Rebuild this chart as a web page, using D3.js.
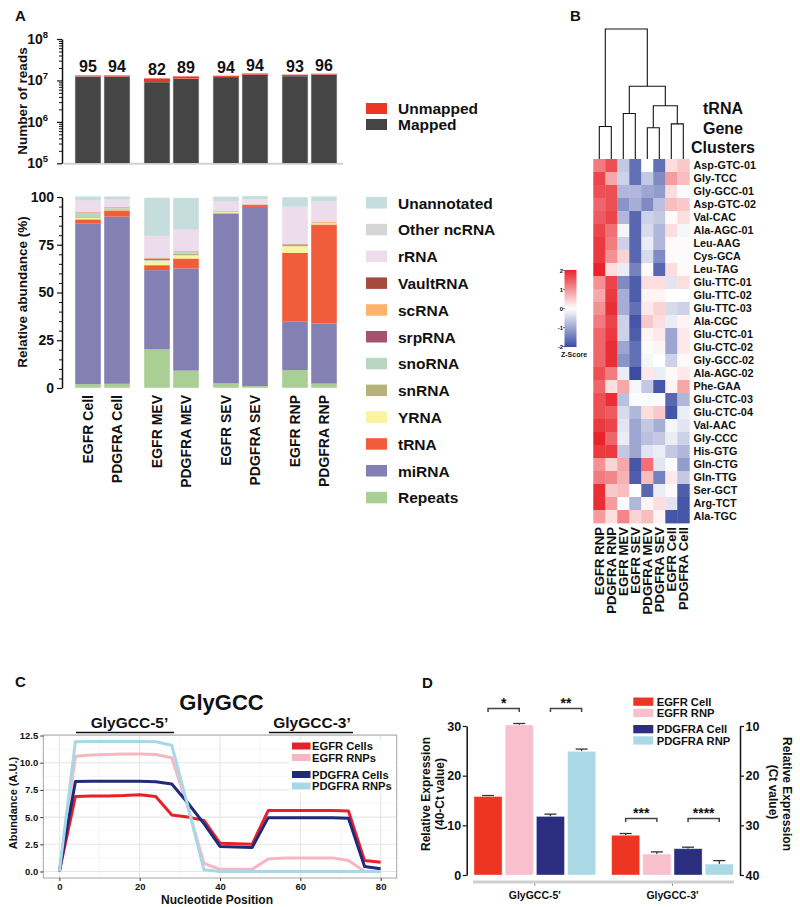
<!DOCTYPE html>
<html><head><meta charset="utf-8">
<script src="https://cdn.jsdelivr.net/npm/d3@7"></script>
<style>
body{margin:0;background:#fff}
svg{display:block}
text{font-family:"Liberation Sans",Arial,Helvetica,sans-serif;font-weight:bold;fill:#111}
</style>
</head><body>
<svg id="c" width="800" height="907"></svg>
<script>
// ---------------- DATA ----------------
// Panel A
const samples = ["EGFR Cell","PDGFRA Cell","EGFR MEV","PDGFRA MEV","EGFR SEV","PDGFRA SEV","EGFR RNP","PDGFRA RNP"];
const totalReads = [1.32e7, 1.32e7, 1.12e7, 1.25e7, 1.30e7, 1.47e7, 1.38e7, 1.45e7];
const mappedPct = [95, 94, 82, 89, 94, 94, 93, 96];
const readLegend = ["Unmapped", "Mapped"];
const readTicks = [1e5, 1e6, 1e7, 1e8];
const readTickExp = ["5", "6", "7", "8"];

const rnaTypes = ["Repeats","miRNA","tRNA","YRNA","snRNA","snoRNA","srpRNA","scRNA","VaultRNA","rRNA","Other ncRNA","Unannotated"];
const repeats     = [2.0, 2.2, 20.2, 9.1, 2.4, 1.0, 9.4, 2.3];
const miRNA       = [84.0, 87.5, 41.5, 53.5, 88.9, 93.8, 25.3, 31.5];
const tRNA        = [2.3, 3.3, 2.6, 5.2, 0.2, 1.0, 36.0, 51.8];
const yRNA        = [0.8, 0.4, 2.2, 1.7, 0.6, 0.2, 3.5, 0.6];
const snRNA       = [0.4, 0.4, 0.3, 0.8, 0.1, 0.1, 0.2, 0.1];
const snoRNA      = [2.2, 0.5, 0.3, 1.0, 0.1, 0.1, 0.2, 0.1];
const srpRNA      = [0.1, 0.1, 0.6, 0.1, 0.05, 0.05, 0.5, 0.1];
const scRNA       = [0.2, 0.2, 0.3, 0.3, 0.3, 0.1, 0.1, 0.4];
const vaultRNA    = [0.1, 0.1, 0.2, 0.1, 0.05, 0.05, 0.1, 0.1];
const rRNA        = [6.0, 3.8, 11.3, 10.9, 5.0, 2.2, 19.5, 10.4];
const otherNcRNA  = [0.3, 0.2, 0.5, 0.4, 0.2, 0.2, 0.2, 0.2];
const unannotated = [2.0, 1.7, 19.7, 16.5, 2.4, 1.8, 5.0, 2.8];
const abundanceTicks = [0, 25, 50, 75, 100];

// Panel B
const heatCols = ["EGFR RNP","PDGFRA RNP","EGFR MEV","EGFR SEV","PDGFRA MEV","PDGFRA SEV","EGFR Cell","PDGFRA Cell"];
const trnaGenes = ["Asp-GTC-01","Gly-TCC","Gly-GCC-01","Asp-GTC-02","Val-CAC","Ala-AGC-01","Leu-AAG","Cys-GCA","Leu-TAG",
  "Glu-TTC-01","Glu-TTC-02","Glu-TTC-03","Ala-CGC","Glu-CTC-01","Glu-CTC-02","Gly-GCC-02","Ala-AGC-02","Phe-GAA",
  "Glu-CTC-03","Glu-CTC-04","Val-AAC","Gly-CCC","His-GTG","Gln-CTG","Gln-TTG","Ser-GCT","Arg-TCT","Ala-TGC"];
const zScores = [
  [1.2, 1.6, -0.6, -1.6, 0.0, -1.6, 0.3, 0.5],
  [1.7, 0.8, -0.5, -1.6, -0.6, -1.3, 0.9, 0.6],
  [1.6, 1.6, -0.8, -0.8, -1.0, -1.1, 0.3, -0.05],
  [1.4, 1.6, -1.2, -0.9, -1.3, -0.7, 0.6, 0.5],
  [1.5, 1.7, -0.8, -1.7, -0.5, -0.6, 0.05, 0.3],
  [1.7, 1.3, -0.1, -1.7, -0.4, -0.8, 0.3, -0.1],
  [1.8, 1.2, -0.5, -1.7, -0.2, -0.8, 0.05, 0.05],
  [1.8, 1.0, 0.4, -1.7, -0.4, -1.3, 0.05, -0.05],
  [2.0, 0.3, -0.2, -1.4, 0.05, -1.7, 0.3, 0.05],
  [1.0, 1.7, -1.3, -1.8, 0.3, 0.3, -0.3, 0.3],
  [0.8, 1.8, -0.9, -1.8, 0.1, 0.1, 0.0, 0.0],
  [1.0, 1.9, -0.9, -1.6, 0.2, 0.4, -0.4, -0.5],
  [1.2, 1.7, -0.5, -1.9, 0.5, 0.3, -0.2, 0.1],
  [1.4, 1.8, -0.5, -1.8, 0.1, 0.2, -1.0, 0.2],
  [1.4, 1.9, -1.0, -1.6, -0.05, 0.1, -1.0, 0.2],
  [1.4, 1.9, -1.2, -1.6, -0.1, 0.0, -0.5, 0.05],
  [1.6, 1.2, -0.2, -2.0, 0.2, -0.2, 0.05, 0.2],
  [1.4, 0.3, 0.8, -0.1, -0.6, -1.9, 0.1, 0.8],
  [1.6, 1.9, -0.7, -0.05, -0.05, -0.05, -1.7, -0.8],
  [1.6, 1.5, -0.4, -0.8, 0.3, 0.5, -1.9, -0.2],
  [1.8, 1.7, -0.3, -1.0, -0.6, -0.9, -0.1, -0.3],
  [2.0, 1.4, -0.2, -1.0, -0.7, -0.6, -0.2, -0.5],
  [1.8, 1.8, -0.6, -1.0, -0.3, -0.2, -0.6, -0.8],
  [1.0, 0.4, 0.8, -1.9, 1.3, -0.3, -0.05, -1.1],
  [1.2, 1.1, 0.7, -1.8, 0.6, -1.4, 0.2, -0.6],
  [1.9, 0.5, 0.6, 0.0, -1.7, -0.2, 0.05, -1.8],
  [1.9, 0.9, -0.05, -0.8, 0.1, 0.3, -0.3, -1.9],
  [0.9, 0.3, 1.1, 0.4, 0.6, 0.1, -1.9, -1.9]
];
const zLegendTicks = [2, 1, 0, -1, -2];
// dendrogram: merge heights (relative distance)
const dendro = {h:1.0, children:[
  {h:0.25, children:[{leaf:0},{leaf:1}]},
  {h:0.56, children:[
    {h:0.35, children:[{leaf:2},{leaf:3}]},
    {h:0.41, children:[
      {h:0.24, children:[{leaf:4},{leaf:5}]},
      {h:0.27, children:[{leaf:6},{leaf:7}]}]}]}]};

// Panel C
const ntPos = [0,4,8,12,16,20,24,28,32,36,40,44,48,52,56,60,64,68,72,76,80];
const egfrCells   = [0,6.9,6.95,6.95,6.98,7.05,6.9,5.2,5.0,4.7,2.6,2.55,2.5,5.6,5.6,5.6,5.6,5.6,5.55,1.0,0.85];
const egfrRNPs    = [0,10.6,10.7,10.75,10.8,10.8,10.75,10.45,5.9,0.75,0.2,0.2,0.2,1.15,1.25,1.25,1.25,1.25,1.0,0.0,0.0];
const pdgfraCells = [0,8.28,8.3,8.3,8.3,8.3,8.25,8.05,6.3,4.4,2.3,2.25,2.2,4.95,4.95,4.95,4.95,4.95,4.9,0.45,0.25];
const pdgfraRNPs  = [0,11.93,11.95,11.95,11.95,11.95,11.93,11.6,6.0,0.15,0,0,0,0,0,0,0,0,0,0,0];
const lineNames = ["EGFR Cells","EGFR RNPs","PDGFRA Cells","PDGFRA RNPs"];
const cXTicks = [0,20,40,60,80];
const cYTicks = [0,2.5,5,7.5,10,12.5];

// Panel D
const dGroups = ["GlyGCC-5'","GlyGCC-3'"];
const dSeries = ["EGFR Cell","EGFR RNP","PDGFRA Cell","PDGFRA RNP"];
const dMean5 = [15.8, 30.2, 11.8, 24.9];
const dErr5  = [0.2, 0.3, 0.45, 0.45];
const dMean3 = [8.0, 4.2, 5.3, 2.2];
const dErr3  = [0.35, 0.45, 0.3, 0.7];
const dSig = [["*",0,0,1],["**",0,2,3],["***",1,0,1],["****",1,2,3]];
const dLeftTicks = [0,10,20,30];
const dRightTicks = [10,20,30,40];

// ---------------- STYLES ----------------
const readColors = ["#ee3524", "#454545"];
const rnaColors = ["#a9cf95","#8480b3","#f15d3b","#faf3a0","#b5b27b","#b9d7c0","#a6536f","#fdb36b","#a54b3d","#eddcec","#d5d5d5","#c6dddd"];
const lineColors = ["#e8202a","#f7b6c4","#1f2a7a","#a8d8e8"];
const dColors = ["#ee3524","#f8bfcc","#2b2e7e","#abd9e6"];

const svg = d3.select("#c");
svg.append("rect").attr("width",800).attr("height",907).attr("fill","#fff");

function T(x, y, s, size, anchor, g) {
  return (g || svg).append("text").attr("x", x).attr("y", y).attr("font-size", size)
    .attr("text-anchor", anchor || "start").text(s);
}
function styleAxis(g, size, col) {
  g.selectAll("text").attr("font-size", size).attr("fill", col || "#111")
    .attr("font-family", '"Liberation Sans",Arial,sans-serif').attr("font-weight","bold");
  g.selectAll("line").attr("stroke", "#111").attr("stroke-width", 1.2);
  g.selectAll("path").attr("stroke", "#111").attr("stroke-width", 1.5);
}

// ---------------- PANEL A ----------------
T(15, 21, "A", 15);
const gx = d3.scaleBand().domain(d3.range(4)).range([75, 337]).paddingInner(0.203);
const ix = d3.scaleBand().domain([0, 1]).range([0, gx.bandwidth()]).paddingInner(0.1034);
const barX = i => gx(Math.floor(i / 2)) + ix(i % 2);
const bw = ix.bandwidth();

// top: reads (log)
const yTop = d3.scaleLog().domain([1e5, 1e8]).range([163.3, 39]);
svg.append("line").attr("x1", 64).attr("x2", 343).attr("y1", 163.8).attr("y2", 163.8)
  .attr("stroke", "#d2d2d2").attr("stroke-width", 2);
const minorTop = [];
[1e5, 1e6, 1e7].forEach(d => { for (let k = 2; k < 10; k++) minorTop.push(d * k); });
const axTopMinor = svg.append("g").attr("transform", "translate(62,0)")
  .call(d3.axisLeft(yTop).tickValues(minorTop).tickSize(3).tickFormat(""));
axTopMinor.select(".domain").remove();
axTopMinor.selectAll("line").attr("stroke", "#111");
const axTop = svg.append("g").attr("transform", "translate(62,0)")
  .call(d3.axisLeft(yTop).tickValues(readTicks).tickSize(5).tickSizeOuter(0).tickFormat(""));
styleAxis(axTop, 13);
readTicks.forEach((v, i) => {
  const t = T(48, yTop(v) + 5, "10", 14, "end");
  t.append("tspan").attr("dy", -6).attr("font-size", 9.5).text(readTickExp[i]);
});
const topG = svg.append("g");
samples.forEach((s, i) => {
  const mapped = totalReads[i] * mappedPct[i] / 100;
  topG.append("rect").attr("x", barX(i)).attr("width", bw)
    .attr("y", yTop(mapped)).attr("height", yTop(1e5) - yTop(mapped))
    .attr("fill", readColors[1]).attr("stroke", "#ddd").attr("stroke-width", 0.6);
  topG.append("rect").attr("x", barX(i)).attr("width", bw)
    .attr("y", yTop(totalReads[i])).attr("height", yTop(mapped) - yTop(totalReads[i]))
    .attr("fill", readColors[0]);
  T(barX(i) + bw / 2, yTop(totalReads[i]) - 3, String(mappedPct[i]), 16, "middle");
});
T(0, 0, "Number of reads", 13.5, "middle").attr("transform", "translate(22,101) rotate(-90)").attr("dy", "0.35em");
readLegend.forEach((k, i) => {
  const y0 = [103, 119][i];
  svg.append("rect").attr("x", 366).attr("y", y0).attr("width", 21).attr("height", 11).attr("fill", readColors[i]);
  T(398, y0 + 11, k, 15.5);
});

// bottom: relative abundance (stacked)
const yBot = d3.scaleLinear().domain([0, 100]).range([388, 197]);
const seriesArrays = [repeats, miRNA, tRNA, yRNA, snRNA, snoRNA, srpRNA, scRNA, vaultRNA, rRNA, otherNcRNA, unannotated];
const table = samples.map((s, i) => {
  const o = {sample: s, idx: i};
  rnaTypes.forEach((k, j) => o[k] = seriesArrays[j][i]);
  return o;
});
const stack = d3.stack().keys(rnaTypes)(table);
const botG = svg.append("g");
stack.forEach((layer, j) => {
  botG.selectAll(null).data(layer).enter().append("rect")
    .attr("x", d => barX(d.data.idx)).attr("width", bw)
    .attr("y", d => yBot(d[1])).attr("height", d => Math.max(0, yBot(d[0]) - yBot(d[1])))
    .attr("fill", rnaColors[j]);
});
samples.forEach((s, i) => {
  const top = d3.sum(seriesArrays, a => a[i]);
  botG.append("rect").attr("x", barX(i)).attr("width", bw).attr("y", yBot(top)).attr("height", yBot(0) - yBot(top))
    .attr("fill", "none").attr("stroke", "#fff").attr("stroke-opacity", 0.5).attr("stroke-width", 0.8);
});
const minorBot = d3.range(0, 101, 5).filter(v => v % 25 !== 0);
const axBotMinor = svg.append("g").attr("transform", "translate(62,0)")
  .call(d3.axisLeft(yBot).tickValues(minorBot).tickSize(3).tickFormat(""));
axBotMinor.select(".domain").remove();
axBotMinor.selectAll("line").attr("stroke", "#111");
const axBot = svg.append("g").attr("transform", "translate(62,0)")
  .call(d3.axisLeft(yBot).tickValues(abundanceTicks).tickSize(5).tickSizeOuter(0).tickPadding(3));
styleAxis(axBot, 14);
T(0, 0, "Relative abundance (%)", 13.5, "middle").attr("transform", "translate(22,292) rotate(-90)").attr("dy", "0.35em");
samples.forEach((s, i) => {
  T(0, 0, s, 14, "end").attr("transform", `translate(${barX(i) + bw / 2},395) rotate(-90)`).attr("dy", "0.36em");
});
const legOrder = rnaTypes.slice().reverse();
legOrder.forEach((k, i) => {
  const y0 = 197 + i * 26.8;
  svg.append("rect").attr("x", 366).attr("y", y0).attr("width", 21).attr("height", 11.5)
    .attr("fill", rnaColors[rnaTypes.indexOf(k)]);
  T(398, y0 + 11.5, k, 15.5);
});

// ---------------- PANEL B ----------------
T(570, 21, "B", 15);
const hx = d3.scaleBand().domain(d3.range(8)).range([593.3, 689.3]);
const hy = d3.scaleBand().domain(d3.range(trnaGenes.length)).range([159, 523]);
const zColor = d3.scaleLinear().domain([-2, 0, 2]).range(["#3b4ca2", "#ffffff", "#e8232a"]).clamp(true);
const heatG = svg.append("g");
zScores.forEach((row, r) => row.forEach((v, c) => {
  heatG.append("rect").attr("x", hx(c)).attr("y", hy(r)).attr("width", hx.bandwidth() + 0.4)
    .attr("height", hy.bandwidth() + 0.4).attr("fill", zColor(v));
}));
trnaGenes.forEach((g, r) => T(693.5, hy(r) + hy.bandwidth() / 2, g, 10.8).attr("dy", "0.36em"));
heatCols.forEach((c, i) => {
  T(0, 0, c, 13.2, "end").attr("transform", `translate(${hx(i) + hx.bandwidth() / 2},527) rotate(-90)`).attr("dy", "0.36em");
});
const dh = d3.scaleLinear().domain([0, 1]).range([159, 29]);
const dG = svg.append("g").attr("fill", "none").attr("stroke", "#111").attr("stroke-width", 1.1);
function nodeX(n) { return n.leaf !== undefined ? hx(n.leaf) + hx.bandwidth() / 2 : (nodeX(n.children[0]) + nodeX(n.children[1])) / 2; }
function nodeY(n) { return n.leaf !== undefined ? dh(0) : dh(n.h); }
function drawNode(n) {
  if (n.leaf !== undefined) return;
  const y = dh(n.h);
  const xs = n.children.map(nodeX);
  dG.append("path").attr("d", `M${xs[0]},${nodeY(n.children[0])}V${y}H${xs[1]}V${nodeY(n.children[1])}`);
  n.children.forEach(drawNode);
}
drawNode(dendro);
["tRNA", "Gene", "Clusters"].forEach((w, i) => T(723, 114 + i * 19.5, w, 16, "middle"));
const defs = svg.append("defs");
const grad = defs.append("linearGradient").attr("id", "zg").attr("x1", 0).attr("x2", 0).attr("y1", 0).attr("y2", 1);
d3.range(0, 1.0001, 0.1).forEach(t => grad.append("stop").attr("offset", t).attr("stop-color", zColor(2 - 4 * t)));
const zLeg = d3.scaleLinear().domain([-2, 2]).range([346.5, 270.5]);
svg.append("rect").attr("x", 564.5).attr("y", 270).attr("width", 12).attr("height", 77).attr("fill", "url(#zg)");
zLegendTicks.forEach(v => {
  T(563, zLeg(v), String(v), 6, "end").attr("dy", "0.35em");
  svg.append("line").attr("x1", 563.5).attr("x2", 564.5).attr("y1", zLeg(v)).attr("y2", zLeg(v)).attr("stroke", "#111");
});
T(561, 357, "Z-Score", 7);

// ---------------- PANEL C ----------------
T(15, 687, "C", 15);
T(221.5, 710, "GlyGCC", 22, "middle");
T(129.5, 728, "GlyGCC-5’", 15.5, "middle");
T(312, 728, "GlyGCC-3’", 15.5, "middle");
svg.append("line").attr("x1", 76).attr("x2", 174).attr("y1", 732.5).attr("y2", 732.5).attr("stroke", "#111").attr("stroke-width", 1.5);
svg.append("line").attr("x1", 269).attr("x2", 353).attr("y1", 732.5).attr("y2", 732.5).attr("stroke", "#111").attr("stroke-width", 1.5);
const xC = d3.scaleLinear().domain([-4, 84]).range([43.3, 396.7]);
const yC = d3.scaleLinear().domain([-0.6, 12.55]).range([878, 735]);
const cG = svg.append("g");
[10, 30, 50, 70].forEach(v => cG.append("line").attr("x1", xC(v)).attr("x2", xC(v)).attr("y1", 735).attr("y2", 878).attr("stroke", "#f2f2f2").attr("stroke-width", 0.7));
d3.range(1.25, 12.6, 2.5).forEach(v => cG.append("line").attr("x1", 43.3).attr("x2", 396.7).attr("y1", yC(v)).attr("y2", yC(v)).attr("stroke", "#f2f2f2").attr("stroke-width", 0.7));
cXTicks.forEach(v => cG.append("line").attr("x1", xC(v)).attr("x2", xC(v)).attr("y1", 735).attr("y2", 878).attr("stroke", "#e6e6e6").attr("stroke-width", 1.1));
cYTicks.forEach(v => cG.append("line").attr("x1", 43.3).attr("x2", 396.7).attr("y1", yC(v)).attr("y2", yC(v)).attr("stroke", "#e6e6e6").attr("stroke-width", 1.1));
cG.append("rect").attr("x", 43.3).attr("y", 735).attr("width", 353.4).attr("height", 143).attr("fill", "none").attr("stroke", "#a6a6a6").attr("stroke-width", 1);
const axCX = cG.append("g").attr("transform", "translate(0,878)").call(d3.axisBottom(xC).tickValues(cXTicks).tickSize(3).tickPadding(2));
axCX.select(".domain").remove();
const axCY = cG.append("g").attr("transform", "translate(43.3,0)").call(d3.axisLeft(yC).tickValues(cYTicks).tickSize(3).tickPadding(2).tickFormat(d3.format(".1f")));
axCY.select(".domain").remove();
[axCX, axCY].forEach(a => { styleAxis(a, 9.5, "#4d4d4d"); a.selectAll("line").attr("stroke", "#333").attr("stroke-width", 1); });
const lineData = [egfrCells, egfrRNPs, pdgfraCells, pdgfraRNPs];
const lineGen = d3.line().x((d, i) => xC(ntPos[i])).y(d => yC(d));
[0, 1, 2, 3].forEach(k => cG.append("path").attr("d", lineGen(lineData[k])).attr("fill", "none")
  .attr("stroke", lineColors[k]).attr("stroke-width", 3).attr("stroke-linejoin", "round"));
cG.append("rect").attr("x", 289).attr("y", 740).attr("width", 106).attr("height", 53).attr("fill", "#fff");
lineNames.forEach((n, i) => {
  const yc = [746, 757.5, 774.5, 786][i];
  cG.append("rect").attr("x", 292).attr("y", yc - 3.5).attr("width", 18.5).attr("height", 7).attr("fill", lineColors[i]);
  T(312, yc, n, 11.2, "start", cG).attr("dy", "0.36em");
});
T(0, 0, "Abundance (A.U.)", 11, "middle").attr("transform", "translate(13,803) rotate(-90)").attr("dy", "0.35em");
T(217, 904, "Nucleotide Position", 12, "middle");

// ---------------- PANEL D ----------------
T(422, 688, "D", 15);
const gD = d3.scaleBand().domain(dGroups).range([474, 733.3]).paddingInner(0.116);
const iD = d3.scaleBand().domain(dSeries).range([0, gD.bandwidth()]).paddingInner(0.1);
const yD = d3.scaleLinear().domain([0, 30]).range([875, 726]);
const yDR = d3.scaleLinear().domain([40, 10]).range([875, 726]);
const dMeans = [dMean5, dMean3], dErrs = [dErr5, dErr3];
const dG2 = svg.append("g");
dGroups.forEach((g, gi) => dSeries.forEach((s, si) => {
  const x = gD(g) + iD(s), m = dMeans[gi][si], e = dErrs[gi][si], cx = x + iD.bandwidth() / 2;
  dG2.append("line").attr("x1", cx).attr("x2", cx).attr("y1", yD(m)).attr("y2", yD(m + e)).attr("stroke", "#333").attr("stroke-width", 1.3);
  dG2.append("line").attr("x1", cx - 6).attr("x2", cx + 6).attr("y1", yD(m + e)).attr("y2", yD(m + e)).attr("stroke", "#333").attr("stroke-width", 1.3);
  dG2.append("rect").attr("x", x).attr("y", yD(m)).attr("width", iD.bandwidth()).attr("height", yD(0) - yD(m))
    .attr("fill", dColors[si]).attr("stroke", "#fff").attr("stroke-opacity", 0.45).attr("stroke-width", 0.8);
}));
dSig.forEach(([lab, gi, a, b]) => {
  const g = dGroups[gi];
  const top = d3.max(dMeans[gi].map((m, k) => m + dErrs[gi][k]));
  const y = yD(top) - 15;
  const xa = gD(g) + iD(dSeries[a]) + iD.bandwidth() / 2, xb = gD(g) + iD(dSeries[b]) + iD.bandwidth() / 2;
  dG2.append("path").attr("d", `M${xa},${y + 3.5}V${y}H${xb}V${y + 3.5}`).attr("fill", "none").attr("stroke", "#444").attr("stroke-width", 1.5);
  T((xa + xb) / 2, y - 1, lab, 14, "middle", dG2);
});
svg.append("line").attr("x1", 473).attr("x2", 734).attr("y1", 882).attr("y2", 882).attr("stroke", "#cfcfcf").attr("stroke-width", 3);
dGroups.forEach(g => {
  const cx = gD(g) + gD.bandwidth() / 2;
  svg.append("line").attr("x1", cx).attr("x2", cx).attr("y1", 883.5).attr("y2", 886).attr("stroke", "#999");
  T(cx, 898.5, g, 10.5, "middle");
});
const axDL = svg.append("g").attr("transform", "translate(466.7,0)").call(d3.axisLeft(yD).tickValues(dLeftTicks).tickSize(4).tickSizeOuter(0).tickPadding(1.5));
styleAxis(axDL, 12.5);
const axDR = svg.append("g").attr("transform", "translate(740,0)").call(d3.axisRight(yDR).tickValues(dRightTicks).tickSize(4).tickSizeOuter(0).tickPadding(1.5));
styleAxis(axDR, 12.5);
T(0, 0, "Relative Expression", 12, "middle").attr("transform", "translate(426,794) rotate(-90)").attr("dy", "0.35em");
T(0, 0, "(40-Ct value)", 12, "middle").attr("transform", "translate(440,794) rotate(-90)").attr("dy", "0.35em");
T(0, 0, "Relative Expression", 12, "middle").attr("transform", "translate(787,794) rotate(90)").attr("dy", "0.35em");
T(0, 0, "(Ct value)", 12, "middle").attr("transform", "translate(773,792) rotate(90)").attr("dy", "0.35em");
dSeries.forEach((s, i) => {
  const y0 = [697.5, 708.8, 725, 736.3][i];
  svg.append("rect").attr("x", 633.3).attr("y", y0).attr("width", 20).attr("height", 8.3).attr("fill", dColors[i]);
  T(656.7, y0 + 8.3, s, 11.2);
});
</script>
</body></html>
